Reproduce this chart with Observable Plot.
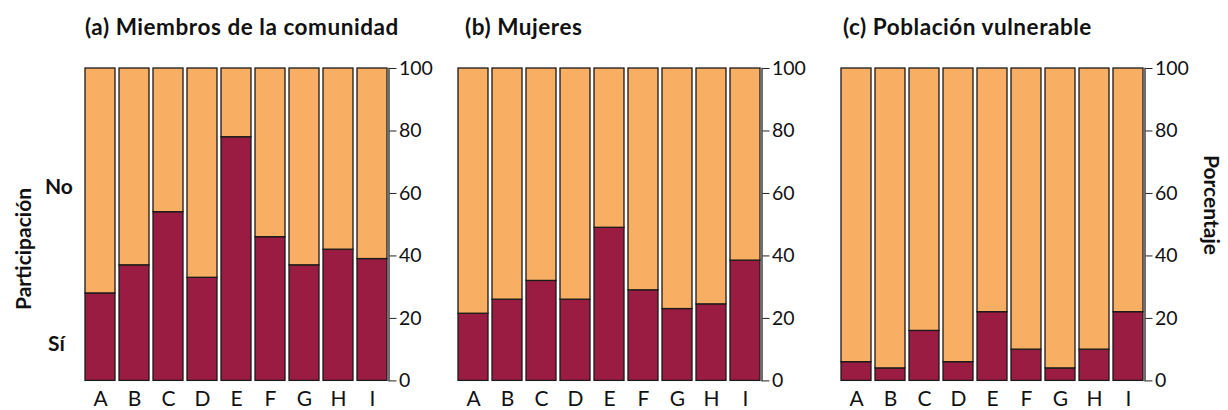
<!DOCTYPE html>
<html><head><meta charset="utf-8">
<script src="https://cdn.jsdelivr.net/npm/d3@7"></script>
<script src="https://cdn.jsdelivr.net/npm/@observablehq/plot@0.6"></script>
<style>
body{margin:0;background:#fff;font-family:Lato,"Noto Sans",sans-serif;color:#111;}
#wrap{position:relative;width:1228px;height:410px;overflow:hidden;}
.t{position:absolute;font-weight:700;font-size:21px;line-height:1;white-space:nowrap;}
.title{position:absolute;font-weight:700;font-size:22.5px;letter-spacing:0.55px;line-height:1;white-space:nowrap;}
.rot{position:absolute;font-weight:700;font-size:21px;line-height:1;white-space:nowrap;transform:translate(-50%,-50%) rotate(-90deg);}
.rot90{position:absolute;font-weight:700;font-size:21px;line-height:1;white-space:nowrap;transform:translate(-50%,-50%) rotate(90deg);}
.panel{position:absolute;}
</style>
</head><body>
<div id="wrap"></div>
<script>
const categories = ["A","B","C","D","E","F","G","H","I"];
const participacion = ["Sí","No"];
const comunidad = [28, 37, 54, 33, 78, 46, 37, 42, 39];
const mujeres = [21.5, 26, 32, 26, 49, 29, 23, 24.5, 38.5];
const vulnerable = [6, 4, 16, 6, 22, 10, 4, 10, 22];
const yTicks = [0, 20, 40, 60, 80, 100];
const titles = ["(a) Miembros de la comunidad", "(b) Mujeres", "(c) Población vulnerable"];
const yLabel = "Porcentaje";
const legendLabel = "Participación";

const RED = "#9B1C42", ORANGE = "#F8AE63";
const wrap = document.getElementById("wrap");

const mL = 4, mR = 52, mT = 14, mB = 29, plotW = 305.5, plotH = 312.4;

function panel(values, left) {
  const data = categories.flatMap((c, i) => [
    {cat: c, part: "Sí", value: values[i]},
    {cat: c, part: "No", value: 100 - values[i]}
  ]);
  const chart = Plot.plot({
    width: mL + plotW + mR,
    height: mT + plotH + mB,
    marginLeft: mL, marginRight: mR, marginTop: mT, marginBottom: mB,
    style: {fontFamily: "Lato, 'Noto Sans', sans-serif", fontSize: "19.5px", color: "#111", background: "transparent", overflow: "visible"},
    x: {domain: categories, paddingInner: 0.11, paddingOuter: 0.03, axis: null, label: null},
    y: {domain: [0, 100], axis: null, label: null},
    color: {domain: participacion, range: [RED, ORANGE]},
    marks: [
      Plot.barY(data, {x: "cat", y: "value", fill: "part", order: participacion, stroke: "#1a1a1a", strokeWidth: 1.3}),
      Plot.axisX({tickSize: 0, tickPadding: 10, fontSize: 21, label: null}),
      Plot.axisY({anchor: "right", ticks: yTicks, tickSize: 7, tickPadding: 3, fontSize: 19.5, label: null, stroke: "#222"}),
      Plot.frame({anchor: "right", stroke: "#222", strokeWidth: 1.3})
    ]
  });
  chart.classList.add("panel");
  chart.style.left = (left - mL) + "px";
  chart.style.top = (68.3 - mT) + "px";
  wrap.appendChild(chart);
}

panel(comunidad, 82.5);
panel(mujeres, 456);
panel(vulnerable, 838.5);

const titleLefts = [85, 465, 843];
titles.forEach((t, i) => {
  const d = document.createElement("div");
  d.className = "title"; d.textContent = t;
  d.style.left = titleLefts[i] + "px"; d.style.top = "16px";
  wrap.appendChild(d);
});

function addText(cls, txt, x, y) {
  const d = document.createElement("div");
  d.className = cls; d.textContent = txt;
  d.style.left = x + "px"; d.style.top = y + "px";
  wrap.appendChild(d);
}
addText("rot", legendLabel, 22, 249);
addText("rot90", yLabel, 1212, 205);
addText("t", participacion[1], 45, 175);
addText("t", participacion[0], 48, 332);
</script>
</body></html>
